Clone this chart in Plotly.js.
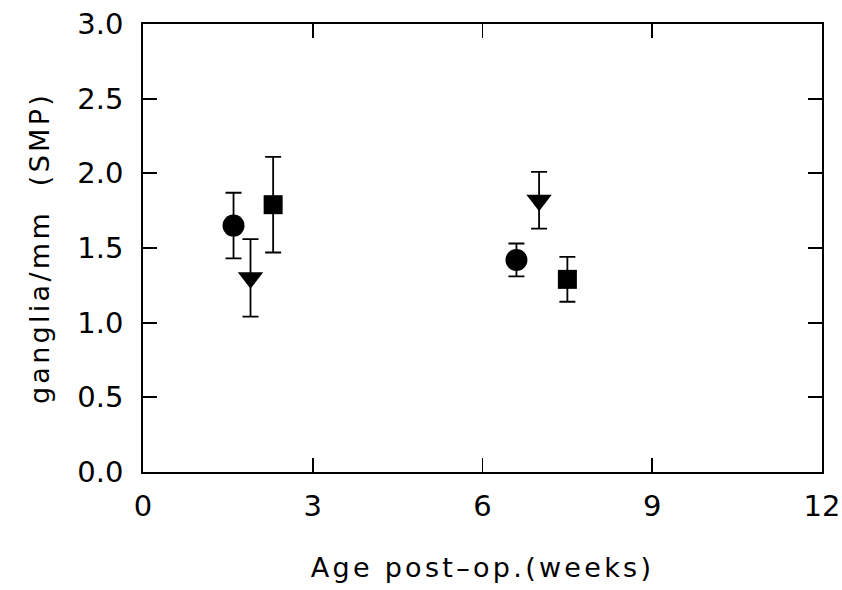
<!DOCTYPE html>
<html><head><meta charset="utf-8">
<script src="https://cdn.plot.ly/plotly-3.0.1.min.js"></script>
<style>body{margin:0;background:#fff}#c{width:842px;height:590px}
#c .g-xtitle text,#c .g-ytitle text{letter-spacing:3.3px}</style>
</head><body><div id="c"></div>
<script>
const circleX = [1.6, 6.6];
const circleY = [1.65, 1.42];
const circleErr = [0.22, 0.11];
const triX = [1.9, 7.0];
const triY = [1.30, 1.82];
const triErr = [0.26, 0.19];
const sqX = [2.3, 7.5];
const sqY = [1.79, 1.29];
const sqErr = [0.32, 0.15];
const xTicks = [0, 3, 6, 9, 12];
const yTicks = [0, 0.5, 1.0, 1.5, 2.0, 2.5, 3.0];

function tr(x, y, e, sym, size) {
  return {x: x, y: y, type: 'scatter', mode: 'markers',
    marker: {symbol: sym, size: size, color: '#000'},
    error_y: {type: 'data', array: e, visible: true, color: '#000', thickness: 1.8, width: 8},
    showlegend: false};
}
const data = [
  tr(circleX, circleY, circleErr, 'circle', 22),
  tr(triX, triY, triErr, 'triangle-down', 22),
  tr(sqX, sqY, sqErr, 'square', 19)
];
const font = {family: 'DejaVu Sans, sans-serif', color: '#000'};
const layout = {
  width: 842, height: 590,
  margin: {l: 143, r: 20, t: 24, b: 118},
  paper_bgcolor: '#fff', plot_bgcolor: '#fff',
  xaxis: {range: [0, 12], tickvals: xTicks, ticktext: xTicks.map(String),
    ticks: 'inside', ticklen: 14, tickwidth: 1.8, tickcolor: '#000',
    showline: true, linecolor: '#000', linewidth: 1.8, mirror: 'ticks',
    showgrid: false, zeroline: false, ticklabelstandoff: 7,
    tickfont: Object.assign({size: 29}, font),
    title: {text: 'Age post\u2013op.(weeks)', font: Object.assign({size: 27}, font), standoff: 36}},
  yaxis: {range: [0, 3], tickvals: yTicks, ticktext: yTicks.map(v => v.toFixed(1)),
    ticks: 'inside', ticklen: 14, tickwidth: 1.8, tickcolor: '#000',
    showline: true, linecolor: '#000', linewidth: 1.8, mirror: 'ticks',
    showgrid: false, zeroline: false, ticklabelstandoff: 12,
    tickfont: Object.assign({size: 29}, font),
    title: {text: 'ganglia/mm  (SMP)', font: Object.assign({size: 27}, font), standoff: 20}}
};
Plotly.newPlot('c', data, layout, {displayModeBar: false, staticPlot: true});
</script></body></html>
